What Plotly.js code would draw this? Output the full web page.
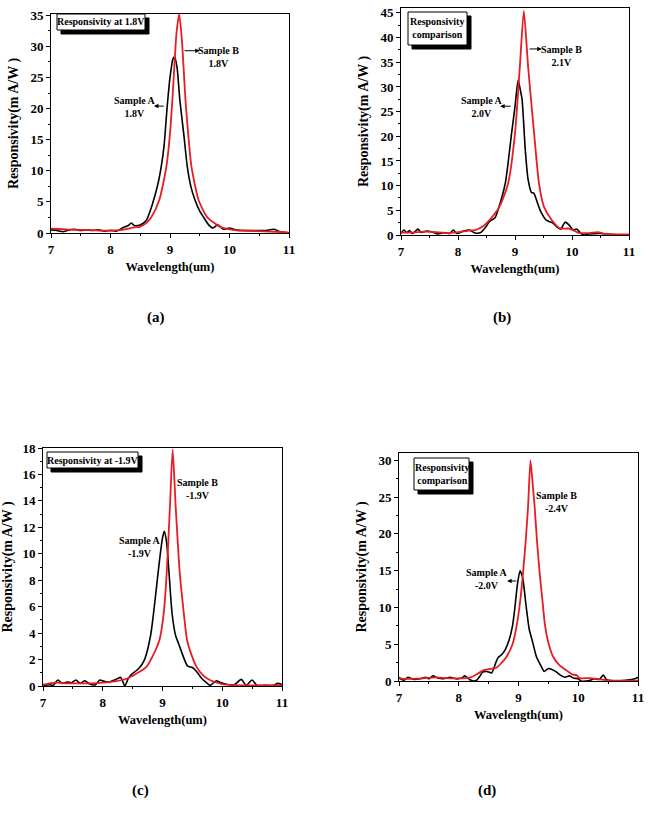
<!DOCTYPE html>
<html><head><meta charset="utf-8">
<script src="https://cdn.plot.ly/plotly-3.0.1.min.js"></script>
<style>html,body{margin:0;padding:0;background:#fff}#chart{width:648px;height:824px}</style>
</head><body><div id="chart"></div>
<script>
// ---------- DATA ----------
// Panel (a)  bias 1.8V
const wlA_a = [7.0,7.1,7.2,7.3,7.4,7.5,7.6,7.7,7.8,7.9,8.0,8.1,8.2,8.3,8.35,8.4,8.5,8.6,8.7,8.8,8.85,8.9,8.95,9.0,9.05,9.08,9.12,9.165,9.23,9.29,9.35,9.42,9.5,9.56,9.65,9.72,9.8,9.9,10.0,10.1,10.2,10.4,10.6,10.75,10.85,11.0];
const rA_a  = [0.5,0.4,0.2,0.5,0.6,0.4,0.5,0.4,0.5,0.3,0.4,0.3,0.8,1.2,1.6,1.2,1.3,2.0,4.5,8.0,10.5,14,20,25,28,28.3,26.5,21.4,16,10.7,7.5,5.3,3.5,2.6,1.3,0.8,1.3,0.6,0.8,0.5,0.4,0.4,0.4,0.6,0.2,0.0];
const wlB_a = [7.0,7.2,7.4,7.6,7.8,8.0,8.2,8.3,8.4,8.49,8.6,8.69,8.82,8.94,9.0,9.04,9.11,9.155,9.2,9.26,9.305,9.36,9.48,9.62,9.84,10.0,10.2,10.5,10.8,11.0];
const rB_a  = [0.7,0.6,0.5,0.5,0.4,0.4,0.5,0.7,0.9,1.0,1.6,2.6,5.3,10.7,16,21.4,32.2,35.2,31,21.4,16,10.7,5.3,2.6,1.0,0.6,0.4,0.3,0.2,0.05];

// Panel (b)  A 2.0V, B 2.1V
const wlA_b = [7.0,7.05,7.1,7.15,7.2,7.3,7.35,7.45,7.55,7.65,7.75,7.85,7.92,7.98,8.1,8.2,8.3,8.4,8.48,8.55,8.65,8.7,8.83,8.94,9.0,9.055,9.1,9.125,9.18,9.23,9.29,9.33,9.38,9.45,9.55,9.65,9.75,9.8,9.88,9.95,10.02,10.08,10.15,10.2,10.3,10.5,10.7,11.0];
const rA_b  = [0.3,1.0,0.5,0.9,0.3,1.2,0.5,0.8,0.6,0.2,0.5,0.3,1.0,0.3,0.8,1.0,0.4,0.5,1.5,2.7,3.5,5.0,10.5,20.6,26,31.4,29,27.4,17.3,11.2,8.6,8.5,7.0,4.8,3.0,2.5,1.5,1.2,2.6,2.0,1.0,1.2,0.4,0.0,0.2,0.3,0.1,0.0];
const wlB_b = [7.0,7.2,7.4,7.6,7.8,8.0,8.2,8.3,8.44,8.56,8.73,8.88,9.0,9.085,9.155,9.23,9.335,9.42,9.505,9.64,9.79,9.95,10.05,10.1,10.3,10.45,10.6,10.9,11.0];
const rB_b  = [0.5,0.5,0.7,0.6,0.4,0.6,0.9,1.0,1.75,3.1,5.8,10.5,20.6,34.1,45.4,34.1,20.6,10.5,5.8,3.1,1.35,1.3,0.8,0.5,0.4,0.6,0.2,0.1,0.1];

// Panel (c)  bias -1.9V
const wlA_c = [7.0,7.1,7.17,7.25,7.32,7.4,7.48,7.55,7.62,7.7,7.78,7.88,7.95,8.02,8.1,8.2,8.3,8.37,8.43,8.5,8.6,8.7,8.8,8.85,8.9,8.95,9.0,9.03,9.07,9.11,9.16,9.22,9.27,9.35,9.42,9.5,9.57,9.65,9.75,9.8,9.9,9.95,10.05,10.2,10.32,10.4,10.5,10.58,10.7,10.85,10.93,11.0];
const rA_c  = [0.0,0.1,0.05,0.45,0.2,0.3,0.25,0.45,0.2,0.4,0.15,0.1,0.45,0.35,0.3,0.45,0.65,0.0,0.6,0.95,1.3,2.0,3.8,5.5,7.5,9.5,11.2,11.7,10.8,8.5,5.5,3.8,3.2,2.2,1.5,1.4,1.1,0.6,0.2,0.05,0.4,0.3,0.15,0.1,0.5,0.05,0.45,0.05,0.05,0.05,0.2,0.1];
const wlB_c = [7.0,7.2,7.4,7.6,7.8,8.0,8.2,8.4,8.55,8.73,8.85,8.95,9.02,9.07,9.125,9.17,9.22,9.29,9.35,9.41,9.49,9.57,9.68,9.8,10.0,10.3,10.6,11.0];
const rB_c  = [0.1,0.25,0.2,0.2,0.2,0.25,0.35,0.55,0.9,1.45,2.4,3.5,5.5,8.5,13.6,17.9,13.6,8.5,5.8,3.5,2.3,1.45,0.8,0.43,0.15,0.05,0.05,0.05];

// Panel (d)  A -2.0V, B -2.4V
const wlA_d = [7.0,7.08,7.15,7.25,7.35,7.45,7.5,7.57,7.65,7.75,7.85,7.95,8.05,8.1,8.18,8.25,8.3,8.35,8.4,8.47,8.55,8.62,8.66,8.72,8.78,8.84,8.9,8.94,8.98,9.025,9.07,9.13,9.18,9.23,9.3,9.38,9.43,9.5,9.55,9.62,9.7,9.78,9.85,9.92,10.0,10.05,10.2,10.27,10.35,10.42,10.47,10.6,10.8,10.95,11.0];
const rA_d  = [0.4,0.1,0.5,0.2,0.3,0.5,0.3,0.7,0.4,0.3,0.5,0.3,0.4,0.7,0.2,0.0,0.1,0.6,1.2,1.3,1.1,2.5,3.2,3.6,4.3,5.5,7.5,10,13,15.0,14,10,7,5.5,3.3,2.0,1.3,1.7,1.6,1.3,0.8,0.5,0.7,0.4,0.3,0.0,0.1,0.3,0.2,0.8,0.2,0.0,0.1,0.3,0.5];
const wlB_d = [7.0,7.05,7.2,7.4,7.6,7.8,8.0,8.2,8.3,8.41,8.5,8.63,8.72,8.8,8.9,8.975,9.03,9.075,9.12,9.16,9.2,9.235,9.27,9.31,9.355,9.4,9.44,9.5,9.58,9.68,9.8,9.9,9.97,10.02,10.2,10.4,10.5,10.8,11.0];
const rB_d  = [0.5,0.3,0.3,0.35,0.5,0.4,0.35,0.5,0.9,1.45,1.6,1.8,2.5,3.3,5.0,7.8,11,14.6,19,23.7,30,27,23.7,19,14.6,11,7.8,5.2,3.3,2.2,1.45,0.9,0.8,0.4,0.4,0.2,0.05,0.05,0.05];

const xTicks = [7,8,9,10,11];
const panelLabels = ['(a)','(b)','(c)','(d)'];
const boxTexts = ['Responsivity at 1.8V','Responsivity<br>comparison','Responsivity at -1.9V','Responsivity<br>comparison'];
const sampleA = ['Sample A<br>1.8V','Sample A<br>2.0V','Sample A<br>-1.9V','Sample A<br>-2.0V'];
const sampleB = ['Sample B<br>1.8V','Sample B<br>2.1V','Sample B<br>-1.9V','Sample B<br>-2.4V'];
const yRanges = [[0,35.2],[0,46],[0,18],[0,31]];
const yDticks = [5,5,2,5];

// ---------- LAYOUT HELPERS ----------
const W = 648, H = 824;
const px = x => x / W, py = y => 1 - y / H;
const serif = "'Liberation Serif', 'Times New Roman', serif";
const RED = 'rgb(232,28,36)';

// plot frames in pixels [left, right, top, bottom]
const frames = [[51,289,14,233],[401,629,8,235],[43,282,448,686],[399,638,453,681]];

const series = [
  [wlA_a, rA_a, wlB_a, rB_a],
  [wlA_b, rA_b, wlB_b, rB_b],
  [wlA_c, rA_c, wlB_c, rB_c],
  [wlA_d, rA_d, wlB_d, rB_d]
];

const data = [];
const layout = {
  width: W, height: H, margin: {l:0,r:0,t:0,b:0},
  paper_bgcolor: '#fff', plot_bgcolor: '#fff',
  showlegend: false, font: {family: serif, color: '#000'},
  shapes: [], annotations: []
};

series.forEach((s, i) => {
  const n = i + 1;
  const xa = 'x' + (n === 1 ? '' : n), ya = 'y' + (n === 1 ? '' : n);
  data.push({x: s[0], y: s[1], type: 'scatter', mode: 'lines', xaxis: xa, yaxis: ya,
    name: 'Sample A', line: {color: '#000', width: 1.6, shape: 'spline', smoothing: 0.6}});
  data.push({x: s[2], y: s[3], type: 'scatter', mode: 'lines', xaxis: xa, yaxis: ya,
    name: 'Sample B', line: {color: RED, width: 1.8, shape: 'spline', smoothing: 0.6}});
  const f = frames[i];
  const axBase = {showline: true, linecolor: '#000', linewidth: 1, mirror: true,
    showgrid: false, zeroline: false, ticks: 'outside', ticklen: 4, tickwidth: 1,
    tickcolor: '#000', tickfont: {family: serif, size: 13, weight: 'bold', color: '#000'}};
  layout['xaxis' + (n === 1 ? '' : n)] = Object.assign({}, axBase, {
    domain: [px(f[0]), px(f[1])], anchor: ya, range: [7, 11],
    tickvals: xTicks, ticktext: xTicks.map(String),
    minor: {ticks: 'outside', ticklen: 2, dtick: 0.5, tickcolor: '#000'},
    title: {text: 'Wavelength(um)', font: {family: serif, size: 12.5, weight: 'bold'}, standoff: 6}
  });
  layout['yaxis' + (n === 1 ? '' : n)] = Object.assign({}, axBase, {
    domain: [py(f[3]), py(f[2])], anchor: xa, range: yRanges[i], dtick: yDticks[i],
    minor: {ticks: 'outside', ticklen: 2, dtick: yDticks[i] / 2, tickcolor: '#000'},
    title: {text: 'Responsivity(m A/W )', font: {family: serif, size: 14, weight: 'bold'}, standoff: 8}
  });
});

// legend-like boxes with shadow
const boxes = [[57,145,14,30],[408,467,12,45],[47,138,452,468],[414,469,458,490]];
boxes.forEach((b, i) => {
  layout.shapes.push({type: 'rect', xref: 'paper', yref: 'paper',
    x0: px(b[0] + 4), x1: px(b[1] + 4), y0: py(b[3] + 4), y1: py(b[2] + 4),
    fillcolor: '#000', line: {color: '#000', width: 1}});
  layout.shapes.push({type: 'rect', xref: 'paper', yref: 'paper',
    x0: px(b[0]), x1: px(b[1]), y0: py(b[3]), y1: py(b[2]),
    fillcolor: '#fff', line: {color: '#000', width: 1}});
  layout.annotations.push({xref: 'paper', yref: 'paper', x: px((b[0] + b[1]) / 2), y: py((b[2] + b[3]) / 2),
    text: boxTexts[i], showarrow: false, xanchor: 'center', yanchor: 'middle',
    font: {family: serif, size: 10, weight: 'bold'}});
});

// panel labels
const labelPos = [[156,318],[502,318],[140,790],[487,790]];
labelPos.forEach((p, i) => layout.annotations.push({xref: 'paper', yref: 'paper', x: px(p[0]), y: py(p[1]),
  text: panelLabels[i], showarrow: false, xanchor: 'center', yanchor: 'middle',
  font: {family: serif, size: 15, weight: 'bold'}}));

// sample text annotations (data coords)
const txtA = [[8.41,20.3],[8.42,25.9],[8.62,10.5],[8.47,13.9]];
const txtB = [[9.81,28.3],[9.81,36.3],[9.58,14.9],[9.64,24.3]];
for (let i = 0; i < 4; i++) {
  const n = i + 1, xr = 'x' + (n === 1 ? '' : n), yr = 'y' + (n === 1 ? '' : n);
  const fnt = {family: serif, size: 10, weight: 'bold'};
  layout.annotations.push({xref: xr, yref: yr, x: txtA[i][0], y: txtA[i][1], text: sampleA[i], showarrow: false, font: fnt});
  layout.annotations.push({xref: xr, yref: yr, x: txtB[i][0], y: txtB[i][1], text: sampleB[i], showarrow: false, font: fnt});
}
// small arrows: head near text, tail at curve
const arrows = [
  ['x','y',9.50,29.3,9.22,29.3],
  ['x','y',8.73,20.4,8.92,20.4],
  ['x2','y2',9.47,37.7,9.23,37.7],
  ['x2','y2',8.74,26.1,8.95,26.1],
  ['x4','y4',8.81,13.6,8.99,13.6]
];
arrows.forEach(a => layout.annotations.push({xref: a[0], yref: a[1], x: a[2], y: a[3],
  axref: a[0], ayref: a[1], ax: a[4], ay: a[5], text: '', showarrow: true,
  arrowhead: 2, arrowsize: 0.9, arrowwidth: 1, arrowcolor: '#000'}));

Plotly.newPlot('chart', data, layout, {staticPlot: true, displayModeBar: false});
</script></body></html>
